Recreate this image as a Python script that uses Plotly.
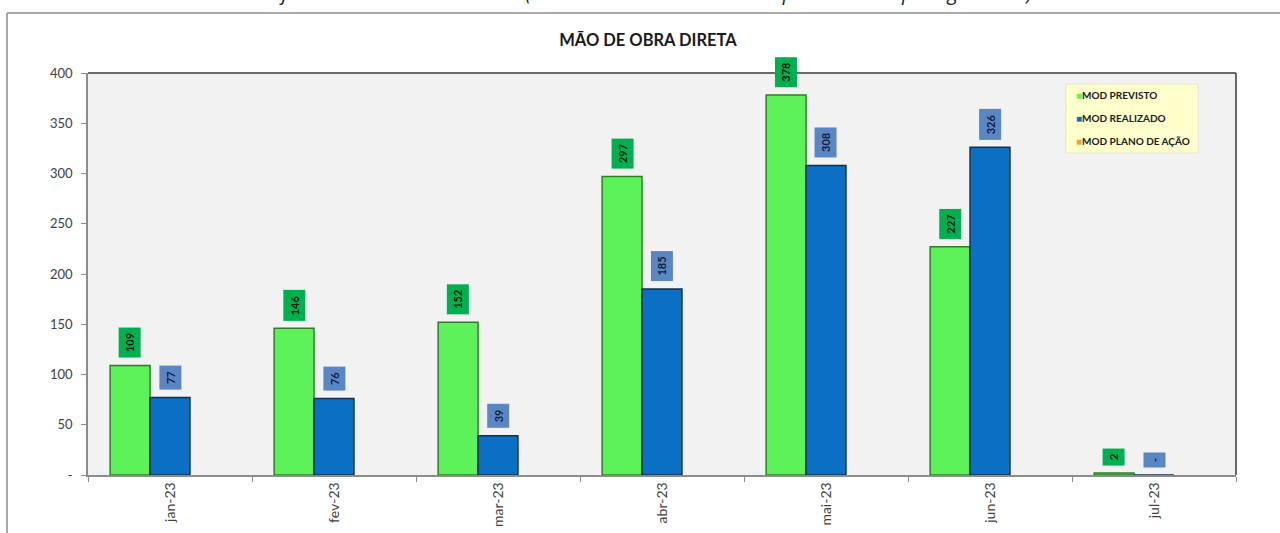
import plotly.graph_objects as go

# ---------------- data ----------------
categories = ["jan-23", "fev-23", "mar-23", "abr-23", "mai-23", "jun-23", "jul-23"]
mod_previsto = [109, 146, 152, 297, 378, 227, 2]
mod_realizado = [77, 76, 39, 185, 308, 326, 0]
mod_plano_acao = [0, 0, 0, 0, 0, 0, 0]
y_tickvals = [0, 50, 100, 150, 200, 250, 300, 350, 400]
y_ticktext = ["-", "50", "100", "150", "200", "250", "300", "350", "400"]
series_names = ["MOD PREVISTO", "MOD REALIZADO", "MOD PLANO DE AÇÃO"]
series_colors = ["#5ef25a", "#0b6fc4", "#f29a4a"]

# ---------------- layout geometry (px) ----------------
W, H = 1280, 533
L, R, T, B = 88, 44, 73, 58
pw, ph = W - L - R, H - T - B
BARGAP = 0.27
FONT = "Lato, 'Open Sans', Arial, sans-serif"

def px_x(px):
    return (px - L) / pw

def px_y(py):
    return 1 - (py - T) / ph

fig = go.Figure()
fig.add_trace(go.Bar(
    x=categories, y=mod_previsto, name=series_names[0],
    marker=dict(color=series_colors[0], line=dict(color="#2f7d2a", width=1.5)),
))
fig.add_trace(go.Bar(
    x=categories, y=mod_realizado, name=series_names[1],
    marker=dict(color=series_colors[1], line=dict(color="#14304f", width=1.5)),
))
fig.add_trace(go.Bar(
    x=categories, y=mod_plano_acao, name=series_names[2],
    marker=dict(color=series_colors[2], line=dict(width=0)),
))

def fmt(v):
    return "-" if v == 0 else str(v)

bar_w = (1 - BARGAP) / 3
annotations = []
for i, v in enumerate(mod_previsto):
    annotations.append(dict(
        x=i - bar_w, y=v, xref="x", yref="y", text="<b>%s</b>" % fmt(v),
        showarrow=False, textangle=-90, yanchor="bottom", xanchor="center",
        yshift=7, bgcolor="#00b050", borderpad=5, height=11,
        font=dict(family=FONT, size=11, color="#0d1a0d"),
    ))
for i, v in enumerate(mod_realizado):
    annotations.append(dict(
        x=i, y=v, xref="x", yref="y", text="<b>%s</b>" % fmt(v),
        showarrow=False, textangle=-90, yanchor="bottom", xanchor="center",
        yshift=7, bgcolor="#5b86c4", borderpad=5, height=11,
        font=dict(family=FONT, size=11, color="#0f2040"),
    ))

# cut-off caption at very top
annotations.append(dict(
    x=px_x(640), y=px_y(8), xref="paper", yref="paper",
    text="<i>Gráfico 4 – Mão de obra direta (Consultar Relatório de Acompanhamento p/ Engenharia)</i>",
    showarrow=False, xanchor="center", yanchor="bottom",
    font=dict(family="'Open Sans', Arial, sans-serif", size=20, color="#222222"),
))

# legend (box + items)
leg_x0, leg_x1, leg_y0, leg_y1 = 1066, 1198, 84, 153
leg_rows = [95, 118, 141]
for name, col, yy in zip(series_names, series_colors, leg_rows):
    annotations.append(dict(
        x=px_x(1074), y=px_y(yy), xref="paper", yref="paper",
        text="<span style='color:%s'>■</span><b>%s</b>" % (col, name),
        showarrow=False, xanchor="left", yanchor="middle",
        font=dict(family=FONT, size=10, color="#1a1a1a"),
    ))

shapes = [
    # outer chart frame (left & top)
    dict(type="line", xref="paper", yref="paper", x0=px_x(7), x1=px_x(W + 5),
         y0=px_y(13), y1=px_y(13), line=dict(color="#8c8c8c", width=1.5)),
    dict(type="line", xref="paper", yref="paper", x0=px_x(7), x1=px_x(7),
         y0=px_y(13), y1=px_y(H + 5), line=dict(color="#8c8c8c", width=1.5)),
    # plot area dark top & right border
    dict(type="line", xref="paper", yref="paper", x0=0, x1=1, y0=1, y1=1,
         line=dict(color="#3a3a3a", width=1.5)),
    dict(type="line", xref="paper", yref="paper", x0=1, x1=1, y0=0, y1=1,
         line=dict(color="#3a3a3a", width=1.5)),
    # legend box
    dict(type="rect", xref="paper", yref="paper", x0=px_x(leg_x0), x1=px_x(leg_x1),
         y0=px_y(leg_y1), y1=px_y(leg_y0), fillcolor="#ffffcc",
         line=dict(color="#e3e3cf", width=1), layer="above"),
]

fig.update_layout(
    width=W, height=H,
    margin=dict(l=L, r=R, t=T, b=B, autoexpand=False),
    paper_bgcolor="white",
    plot_bgcolor="#f2f2f2",
    barmode="group",
    bargap=BARGAP,
    bargroupgap=0,
    font=dict(family=FONT, color="#404040"),
    title=dict(text="<b>MÃO DE OBRA DIRETA</b>", x=648 / W, xanchor="center",
               xref="container", yref="container", y=1 - 40 / H, yanchor="middle",
               font=dict(family=FONT, size=16.5, color="#1a1a1a")),
    showlegend=False,
    xaxis=dict(
        type="category", tickangle=-90, showgrid=False, zeroline=False,
        showline=True, linecolor="#8c8c8c", linewidth=1.5, automargin=False,
        ticks="outside", tickson="boundaries", ticklen=5, tickcolor="#8c8c8c",
        tickfont=dict(family=FONT, size=14, color="#404040"),
    ),
    yaxis=dict(
        range=[0, 400], tickvals=y_tickvals, ticktext=y_ticktext, automargin=False,
        showgrid=False, zeroline=False, showline=True, linecolor="#8c8c8c",
        linewidth=1.5, ticks="outside", ticklen=5, tickcolor="#8c8c8c",
        tickfont=dict(family=FONT, size=13, color="#404040"),
        ticklabelstandoff=6,
    ),
    annotations=annotations,
    shapes=shapes,
)

fig.write_html("out.html", config={"displayModeBar": False},
               post_script="document.body.style.margin='0';")
